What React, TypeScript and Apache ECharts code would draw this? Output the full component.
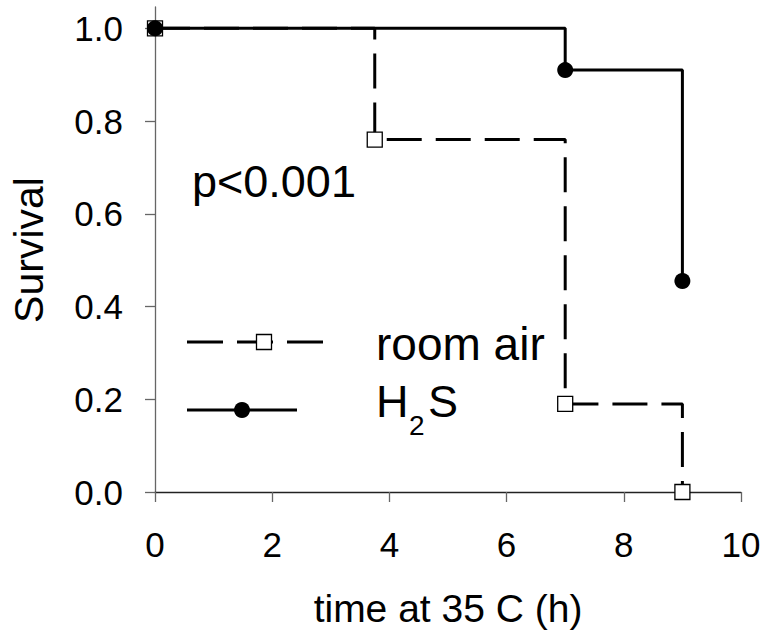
import React, { useEffect, useRef } from "react";
import * as echarts from "echarts";

const roomAirTime = [0, 3.75, 7, 9];
const roomAirSurvival = [1.0, 0.76, 0.19, 0.0];
const h2sTime = [0, 7, 9];
const h2sSurvival = [1.0, 0.91, 0.455];
const yTicks = [0, 0.2, 0.4, 0.6, 0.8, 1.0];
const seriesNames = ["room air", "H2S"];
const pValueText = "p<0.001";
const xTitle = "time at 35 C (h)";
const yTitle = "Survival";

const FONT = "'Liberation Sans', Arial, Helvetica, sans-serif";

export default function App() {
  const ref = useRef<HTMLDivElement>(null);
  useEffect(() => {
    if (!ref.current) return;
    const chart = echarts.init(ref.current, undefined, { renderer: "svg" });
    const roomData = roomAirTime.map((t, i) => [t, roomAirSurvival[i]]);
    const h2sData = h2sTime.map((t, i) => [t, h2sSurvival[i]]);
    chart.setOption({
      animation: false,
      backgroundColor: "#ffffff",
      grid: { left: 155, right: 24, top: 7, bottom: 141, containLabel: false },
      xAxis: {
        type: "value",
        min: 0,
        max: 10,
        interval: 2,
        splitLine: { show: false },
        axisLine: { show: true, lineStyle: { color: "#222", width: 1.3 } },
        axisTick: { show: true, inside: false, length: 10, lineStyle: { color: "#666", width: 1.3 } },
        axisLabel: { margin: 35, fontSize: 35, color: "#000", fontFamily: FONT },
      },
      yAxis: {
        type: "value",
        min: 0,
        max: 1.046,
        splitLine: { show: false },
        axisLine: { show: true, lineStyle: { color: "#666", width: 1.3 } },
        axisTick: { show: true, inside: false, length: 10, customValues: yTicks, lineStyle: { color: "#666", width: 1.3 } },
        axisLabel: {
          margin: 32,
          fontSize: 35,
          color: "#000",
          fontFamily: FONT,
          customValues: yTicks,
          formatter: (v: number) => v.toFixed(1),
        },
      },
      series: [
        {
          name: seriesNames[0],
          type: "line",
          step: "end",
          data: roomData,
          z: 2,
          symbol: "rect",
          symbolSize: 15,
          lineStyle: { color: "#000", width: 3, type: [35, 14] },
          itemStyle: { color: "#fff", borderColor: "#000", borderWidth: 1.3 },
        },
        {
          name: seriesNames[1],
          type: "line",
          step: "end",
          data: h2sData,
          z: 3,
          symbol: "circle",
          symbolSize: 16,
          lineStyle: { color: "#000", width: 3 },
          itemStyle: { color: "#000", borderColor: "#000", borderWidth: 0 },
        },
      ],
      graphic: [
        {
          type: "text",
          x: 28.5,
          y: 250,
          rotation: Math.PI / 2,
          style: {
            text: yTitle,
            font: `41px ${FONT}`,
            fill: "#000",
            align: "center",
            verticalAlign: "middle",
          },
        },
        {
          type: "text",
          x: 448,
          y: 608.5,
          style: { text: xTitle, font: `39px ${FONT}`, fill: "#000", align: "center", verticalAlign: "middle" },
        },
        {
          type: "text",
          x: 192,
          y: 181,
          style: { text: pValueText, font: `45px ${FONT}`, fill: "#000", align: "left", verticalAlign: "middle" },
        },
        {
          type: "line",
          shape: { x1: 187, y1: 342, x2: 324, y2: 342 },
          style: { stroke: "#000", lineWidth: 3, lineDash: [36, 14] },
        },
        {
          type: "rect",
          shape: { x: 256.5, y: 334.5, width: 15, height: 15 },
          style: { fill: "#fff", stroke: "#000", lineWidth: 1.3 },
        },
        {
          type: "line",
          shape: { x1: 187, y1: 410, x2: 297, y2: 410 },
          style: { stroke: "#000", lineWidth: 3 },
        },
        {
          type: "circle",
          shape: { cx: 242, cy: 410, r: 8 },
          style: { fill: "#000" },
        },
        {
          type: "text",
          x: 376,
          y: 344,
          style: { text: seriesNames[0], font: `46px ${FONT}`, fill: "#000", align: "left", verticalAlign: "middle" },
        },
        {
          type: "text",
          x: 376,
          y: 401,
          style: { text: "H", font: `45px ${FONT}`, fill: "#000", align: "left", verticalAlign: "middle" },
        },
        {
          type: "text",
          x: 409,
          y: 425,
          style: { text: "2", font: `28px ${FONT}`, fill: "#000", align: "left", verticalAlign: "middle" },
        },
        {
          type: "text",
          x: 428,
          y: 401,
          style: { text: "S", font: `45px ${FONT}`, fill: "#000", align: "left", verticalAlign: "middle" },
        },
      ],
    });
    return () => chart.dispose();
  }, []);
  return (
    <div
      ref={ref}
      style={{ position: "absolute", left: 0, top: 0, width: 765, height: 633, background: "#fff" }}
    />
  );
}
